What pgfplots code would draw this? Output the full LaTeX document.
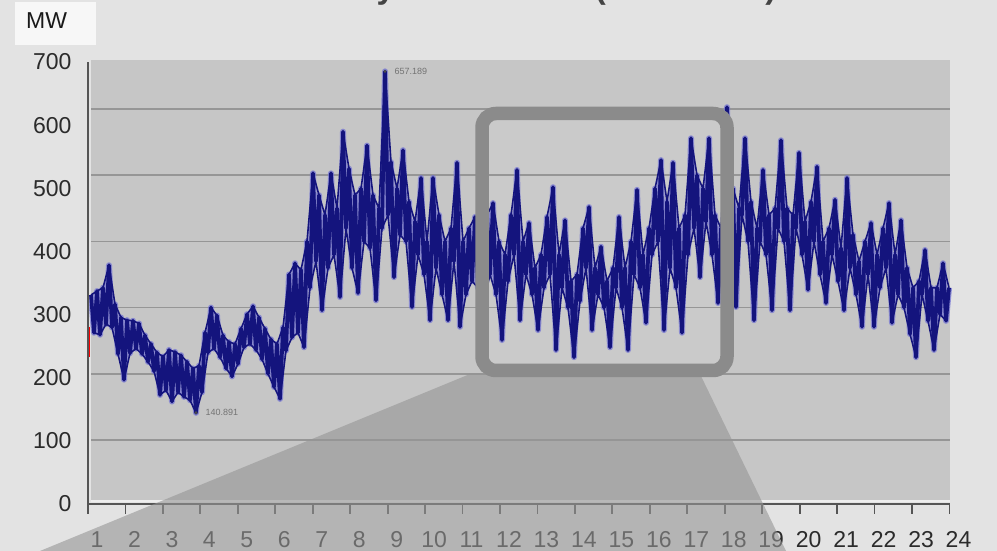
\documentclass[border=0pt]{standalone}
\usepackage{pgfplots}
\pgfplotsset{compat=1.18}
\usepackage{pgfplotstable}
\usepackage{fontspec}
\setmainfont{Liberation Sans}
\definecolor{bgc}{HTML}{E3E3E3}
\definecolor{plotc}{HTML}{C6C6C6}
\definecolor{gridc}{HTML}{969696}
\definecolor{navy}{RGB}{20,20,125}
\definecolor{halo}{RGB}{110,110,210}
\definecolor{labc}{HTML}{2B2B2B}
\definecolor{axisc}{HTML}{555555}
\definecolor{framec}{HTML}{8B8B8B}
\definecolor{funnelc}{HTML}{959595}
\definecolor{titlec}{HTML}{444444}
\definecolor{boxc}{HTML}{F7F7F7}

% load (MW), alternating upper / lower edge of the band, one value every 3 px
\pgfplotstableread{
mw
319
262
325
259
330
275
364
270
305
230
285
191
281
231
280
238
276
230
258
218
245
204
232
168
226
175
236
158
233
172
228
165
218
160
208
140.891
212
172
262
232
300
238
288
225
258
208
248
196
245
215
268
240
290
245
302
236
285
222
268
200
252
180
245
162
270
235
350
255
367
262
357
240
400
330
503
370
470
296
440
360
503
380
450
316
566
420
510
360
470
322
480
400
545
390
470
311
450
420
657.189
440
520
346
480
410
538
400
460
301
430
380
496
350
400
281
496
360
440
320
400
281
420
370
519
271
400
320
420
340
437
330
420
310
440
350
458
320
400
251
380
340
440
380
508
281
400
350
428
320
360
266
380
330
437
350
482
236
380
330
432
300
340
225
350
310
420
360
452
266
360
320
392
300
340
240
360
330
437
300
360
236
400
350
478
330
380
277
420
380
480
400
523
266
460
360
519
330
420
262
440
380
556
420
500
346
480
430
556
380
440
307
420
400
603
420
480
301
450
440
556
400
460
281
420
400
508
380
440
296
450
420
553
400
450
296
440
420
534
380
430
327
460
400
513
350
400
307
420
380
463
340
390
296
496
360
410
320
370
271
400
350
428
271
380
330
420
360
458
277
380
320
432
300
360
260
330
225
340
320
387
280
330
236
330
290
367
280
330
}\loadtable

% upper edge only
\pgfplotstableread{
mw
319
325
330
364
305
285
281
280
276
258
245
232
226
236
233
228
218
208
212
262
300
288
258
248
245
268
290
302
285
268
252
245
270
350
367
357
400
503
470
440
503
450
566
510
470
480
545
470
450
657.189
520
480
538
460
430
496
400
496
440
400
420
519
400
420
437
420
440
458
400
380
440
508
400
428
360
380
437
482
380
432
340
350
420
452
360
392
340
360
437
360
400
478
380
420
480
523
460
519
420
440
556
500
480
556
440
420
603
480
450
556
460
420
508
440
450
553
450
440
534
430
460
513
400
420
463
390
496
410
370
400
428
380
420
458
380
432
360
330
340
387
330
330
367
330
}\tops

% lower edge only
\pgfplotstableread{
mw
262
259
275
270
230
191
231
238
230
218
204
168
175
158
172
165
160
140.891
172
232
238
225
208
196
215
240
245
236
222
200
180
162
235
255
262
240
330
370
296
360
380
316
420
360
322
400
390
311
420
440
346
410
400
301
380
350
281
360
320
281
370
271
320
340
330
310
350
320
251
340
380
281
350
320
266
330
350
236
330
300
225
310
360
266
320
300
240
330
300
236
350
330
277
380
400
266
360
330
262
380
420
346
430
380
307
400
420
301
440
400
281
400
380
296
420
400
296
420
380
327
400
350
307
380
340
296
360
320
271
350
271
330
360
277
320
300
260
225
320
280
236
290
280
}\bots

\begin{document}
\begin{tikzpicture}[x=1pt,y=1pt]
\useasboundingbox (0,0) rectangle (997,551);
\clip (0,0) rectangle (997,551);
\fill[bgc] (0,0) rectangle (997,551);
% title (cut by the top edge, as in the reference)
\node[anchor=base west, inner sep=0, font=\bfseries\fontsize{33}{36}\selectfont, text=titlec] at (316,552) {Daily Load Curve (June 2010)};
% unit box
\fill[boxc] (15,506) rectangle (96,549);
\node[anchor=base west, inner sep=0, font=\fontsize{23}{26}\selectfont, text=black!90] at (26,522) {MW};
% embedded plot background
\fill[plotc] (91,49) rectangle (950,491);
\fill[white, opacity=0.07, rounded corners=14pt] (482,180.5) rectangle (727,437.5);
\draw[white!70!plotc, line width=1.5pt] (91,50) -- (950,50);

% inner chart
\begin{axis}[at={(91pt,49pt)}, anchor=south west, scale only axis,
  width=859pt, height=442pt,
  xmin=0, xmax=286.33, ymin=6.05, ymax=674.4,
  axis line style={draw=none}, xtick=\empty,
  ytick={100,200,...,600}, yticklabels={}, major tick length=0pt,
  ymajorgrids, grid style={gridc, line width=1.7pt},
  clip=false]
\addplot[halo, opacity=0.7, line width=6pt, line join=round] table[x expr=\coordindex, y index=0] {\loadtable};
\addplot[navy, line width=3.7pt, line join=round] table[x expr=\coordindex, y index=0] {\loadtable};
\addplot[navy, line width=1.6pt, line join=round] table[x expr=2*\coordindex, y index=0] {\tops};
\addplot[navy, line width=1.6pt, line join=round] table[x expr=2*\coordindex+1, y index=0] {\bots};
\addplot[red, line width=2.5pt] coordinates {(-0.7,270) (-0.7,226)};
\addplot[only marks, mark=*, mark size=1.3pt, color=black!70] coordinates {(98,657.189) (35,140.891)};
\node[anchor=west, font=\fontsize{9}{10}\selectfont, text=black!55] at (axis cs:100,657.189) {657.189};
\node[anchor=west, font=\fontsize{9}{10}\selectfont, text=black!55] at (axis cs:37,140.891) {140.891};
\end{axis}

% outer chart axes
\begin{axis}[at={(88pt,47pt)}, anchor=south west, scale only axis,
  width=861.5pt, height=442pt,
  xmin=1, xmax=24, ymin=0, ymax=700,
  axis x line*=bottom, axis y line*=left,
  axis line style={draw=axisc, line width=2pt, -},
  xtick={1,...,24}, ytick={0,100,...,700},
  tick align=outside, major tick length=10pt,
  xtick style={draw=axisc, line width=1.8pt},
  ytick style={draw=none},
  tick label style={font=\fontsize{23}{26}\selectfont, text=labc},
  /pgf/number format/assume math mode=true,
  xticklabel style={xshift=9pt, yshift=-14pt},
  yticklabel style={xshift=-3pt}]
\addplot[draw=none] coordinates {(1,0) (24,700)};
\end{axis}

% zoom funnel and frame
\fill[funnelc, opacity=0.6] (40,0) -- (470,177) -- (700,177) -- (786,0) -- cycle;
\draw[framec, line width=13.5pt, rounded corners=14pt] (482,180.5) rectangle (727,437.5);
\end{tikzpicture}
\end{document}
